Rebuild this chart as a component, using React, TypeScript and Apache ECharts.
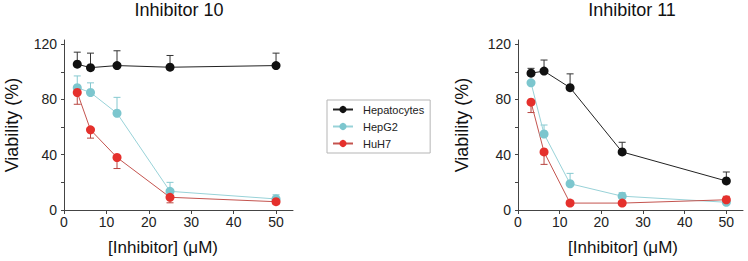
import React, { useEffect, useRef } from "react";
import * as echarts from "echarts";

const concentrations = [3.125, 6.25, 12.5, 25, 50];
const xTicks = [0, 10, 20, 30, 40, 50];
const yTicks = [0, 20, 40, 60, 80, 100, 120];
const yLabels = [0, 40, 80, 120];
const seriesNames = ["Hepatocytes", "HepG2", "HuH7"];
const panelTitles = ["Inhibitor 10", "Inhibitor 11"];

// Inhibitor 10
const hep10 = [105.5, 103, 104.5, 103.3, 104.5];
const hep10Err = [8.7, 10.5, 10.7, 8.5, 9];
const hepg210 = [88.5, 85, 70, 13.5, 8];
const hepg210Err = [8.5, 7, 11.5, 6.5, 3];
const huh710 = [85, 58, 38, 9.2, 6];
const huh710Err = [-8.5, -6, -8, -4, -1.5];

// Inhibitor 11
const hep11 = [99, 100.5, 88.5, 42, 21];
const hep11Err = [3.5, 8, 10, 7, 6.5];
const hepg211 = [92, 55, 19, 10, 5.6];
const hepg211Err = [0, 6.5, 7.5, 2.5, 1];
const huh711 = [78, 42, 5, 5, 7.4];
const huh711Err = [-7.5, -9, 2, 0, 2.5];

const markerColors = ["#111111", "#7cc6ce", "#e5302c"];
const lineColors = ["#222222", "#98d2d8", "#c4544f"];
const errColors = ["#333333", "#86c9d0", "#b8443f"];

const FONT = "Liberation Sans, Arial, Helvetica, sans-serif";

function lineSeries(idx: number, values: number[], panel: number) {
  return {
    type: "line",
    name: seriesNames[idx],
    xAxisIndex: panel,
    yAxisIndex: panel,
    data: concentrations.map((c, i) => [c, values[i]]),
    symbol: "circle",
    symbolSize: 9,
    itemStyle: { color: markerColors[idx] },
    lineStyle: { color: lineColors[idx], width: 1 },
    z: 3,
    silent: true,
  };
}

function errSeries(idx: number, values: number[], errs: number[], panel: number) {
  const color = errColors[idx];
  return {
    type: "custom",
    xAxisIndex: panel,
    yAxisIndex: panel,
    data: concentrations.map((c, i) => [c, values[i], values[i] + errs[i]]),
    encode: { x: 0, y: [1, 2] },
    renderItem: (params: any, api: any) => {
      const v = api.value(1);
      const t = api.value(2);
      if (v === t) return { type: "group", children: [] };
      const p0 = api.coord([api.value(0), v]);
      const p1 = api.coord([api.value(0), t]);
      return {
        type: "group",
        children: [
          {
            type: "line",
            shape: { x1: p0[0], y1: p0[1], x2: p1[0], y2: p1[1] },
            style: { stroke: color, lineWidth: 1 },
          },
          {
            type: "line",
            shape: { x1: p1[0] - 3.5, y1: p1[1], x2: p1[0] + 3.5, y2: p1[1] },
            style: { stroke: color, lineWidth: 1 },
          },
        ],
      };
    },
    z: 2,
    silent: true,
  };
}

function xAxis(panel: number, padRight: number) {
  return {
    type: "value",
    gridIndex: panel,
    min: 0,
    max: 54,
    name: "[Inhibitor] (\u03bcM)",
    nameLocation: "middle",
    nameGap: 29,
    nameTextStyle: { fontSize: 17, color: "#111", fontFamily: FONT, padding: [0, padRight, 0, 0] },
    axisLine: { onZero: false, lineStyle: { color: "#444", width: 1 } },
    axisTick: { show: true, inside: false, length: 4, customValues: xTicks, lineStyle: { color: "#444" } },
    axisLabel: { customValues: xTicks, fontSize: 14, color: "#222", margin: 5, fontFamily: FONT },
    splitLine: { show: false },
  };
}

function yAxis(panel: number, gap: number) {
  return {
    type: "value",
    gridIndex: panel,
    min: 0,
    max: 123,
    name: "Viability (%)",
    nameLocation: "middle",
    nameGap: gap,
    nameTextStyle: { fontSize: 18, color: "#111", fontFamily: FONT },
    axisLine: { show: true, onZero: false, lineStyle: { color: "#444", width: 1 } },
    axisTick: { show: true, inside: false, length: 3, customValues: yTicks, lineStyle: { color: "#444" } },
    axisLabel: { customValues: yLabels, fontSize: 14, color: "#222", margin: 7, fontFamily: FONT },
    splitLine: { show: false },
  };
}

export default function App() {
  const ref = useRef<HTMLDivElement>(null);
  useEffect(() => {
    if (!ref.current) return;
    const chart = echarts.init(ref.current, null, { renderer: "svg" });
    chart.setOption({
      animation: false,
      backgroundColor: "#ffffff",
      textStyle: { fontFamily: FONT },
      grid: [
        { left: 64, top: 40, width: 229, height: 170 },
        { left: 518, top: 40, width: 225, height: 170 },
      ],
      xAxis: [xAxis(0, 31), xAxis(1, 15)],
      yAxis: [yAxis(0, 43), yAxis(1, 47)],
      legend: {
        data: seriesNames,
        orient: "vertical",
        left: 327,
        top: 100,
        itemWidth: 20,
        itemHeight: 9,
        itemGap: 6,
        padding: [4, 6, 4, 5],
        borderColor: "#b5b5b5",
        borderWidth: 1,
        textStyle: { fontSize: 11, color: "#222", fontFamily: FONT, padding: [0, 0, 0, 5] },
        selectedMode: false,
      },
      graphic: [
        {
          type: "text",
          x: 179,
          y: 10,
          style: { text: panelTitles[0], textAlign: "center", textVerticalAlign: "middle", fontSize: 18, fontFamily: FONT, fill: "#111" },
        },
        {
          type: "text",
          x: 632,
          y: 10,
          style: { text: panelTitles[1], textAlign: "center", textVerticalAlign: "middle", fontSize: 18, fontFamily: FONT, fill: "#111" },
        },
      ],
      series: [
        lineSeries(0, hep10, 0),
        lineSeries(1, hepg210, 0),
        lineSeries(2, huh710, 0),
        lineSeries(0, hep11, 1),
        lineSeries(1, hepg211, 1),
        lineSeries(2, huh711, 1),
        errSeries(0, hep10, hep10Err, 0),
        errSeries(1, hepg210, hepg210Err, 0),
        errSeries(2, huh710, huh710Err, 0),
        errSeries(0, hep11, hep11Err, 1),
        errSeries(1, hepg211, hepg211Err, 1),
        errSeries(2, huh711, huh711Err, 1),
      ],
    });
    return () => chart.dispose();
  }, []);
  return (
    <div
      ref={ref}
      style={{ position: "fixed", left: 0, top: 0, width: 748, height: 261, background: "#fff" }}
    />
  );
}
